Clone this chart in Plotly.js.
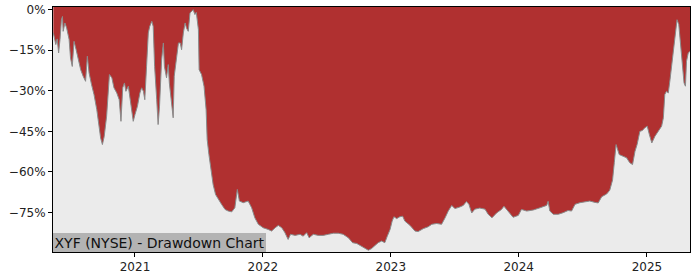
<!DOCTYPE html>
<html>
<head>
<meta charset="utf-8">
<script src="https://cdn.plot.ly/plotly-3.0.1.min.js"></script>
<style>html,body{margin:0;padding:0;background:#fff;}#chart{width:700px;height:280px;}</style>
</head>
<body>
<div id="chart"></div>
<script>
// Drawdown series (percent below running peak)
const dates = [
"2020-05-13","2020-05-20","2020-05-24","2020-05-28","2020-06-01","2020-06-05","2020-06-08","2020-06-10","2020-06-15","2020-06-20",
"2020-06-27","2020-07-01","2020-07-06","2020-07-11","2020-07-17","2020-07-23","2020-07-30","2020-08-06","2020-08-13","2020-08-18",
"2020-08-23","2020-08-30","2020-09-06","2020-09-14","2020-09-20","2020-09-25","2020-09-30","2020-10-05","2020-10-12","2020-10-20",
"2020-10-27","2020-11-02","2020-11-10","2020-11-17","2020-11-22","2020-11-27","2020-12-02","2020-12-06","2020-12-13","2020-12-20",
"2020-12-27","2021-01-01","2021-01-08","2021-01-15","2021-01-20","2021-01-25","2021-01-29","2021-02-03","2021-02-08","2021-02-12",
"2021-02-18","2021-02-22","2021-02-26","2021-03-04","2021-03-08","2021-03-12","2021-03-18","2021-03-23","2021-03-26","2021-04-01",
"2021-04-06","2021-04-09","2021-04-16","2021-04-20","2021-04-23","2021-04-30","2021-05-05","2021-05-10","2021-05-14","2021-05-19",
"2021-05-24","2021-05-28","2021-06-02","2021-06-07","2021-06-11","2021-06-16","2021-06-21","2021-06-25","2021-07-01","2021-07-03",
"2021-07-10","2021-07-17","2021-07-23","2021-07-26","2021-07-31","2021-08-06","2021-08-12","2021-08-19","2021-08-27","2021-09-05",
"2021-09-15","2021-09-24","2021-10-04","2021-10-13","2021-10-20","2021-10-26","2021-11-06","2021-11-20","2021-11-30","2021-12-09",
"2021-12-19","2022-01-02","2022-01-16","2022-01-26","2022-02-05","2022-02-14","2022-02-24","2022-03-05","2022-03-14","2022-03-21",
"2022-04-03","2022-04-17","2022-04-26","2022-05-06","2022-05-13","2022-05-25","2022-06-08","2022-06-22","2022-07-07","2022-07-21",
"2022-08-04","2022-08-18","2022-09-02","2022-09-14","2022-09-26","2022-10-10","2022-10-19","2022-10-29","2022-11-07","2022-11-17",
"2022-11-26","2022-12-06","2022-12-15","2022-12-22","2022-12-30","2023-01-05","2023-01-10","2023-01-18","2023-01-27","2023-02-04",
"2023-02-10","2023-02-25","2023-03-11","2023-03-20","2023-04-04","2023-04-18","2023-04-28","2023-05-12","2023-05-26","2023-06-05",
"2023-06-14","2023-06-24","2023-07-03","2023-07-17","2023-07-27","2023-08-05","2023-08-12","2023-08-20","2023-08-29","2023-09-12",
"2023-09-27","2023-10-06","2023-10-17","2023-10-30","2023-11-13","2023-11-20","2023-12-02","2023-12-16","2023-12-31","2024-01-09",
"2024-01-24","2024-02-12","2024-03-02","2024-03-21","2024-03-25","2024-03-30","2024-04-09","2024-04-23","2024-05-07","2024-05-21",
"2024-05-31","2024-06-10","2024-06-24","2024-07-08","2024-07-22","2024-08-06","2024-08-15","2024-08-25","2024-09-08","2024-09-17",
"2024-09-25","2024-09-30","2024-10-05","2024-10-14","2024-10-24","2024-11-04","2024-11-13","2024-11-21","2024-11-28","2024-12-04",
"2024-12-12","2024-12-19","2024-12-26","2025-01-02","2025-01-08","2025-01-15","2025-01-24","2025-02-02","2025-02-12","2025-02-17",
"2025-02-21","2025-02-26","2025-03-03","2025-03-08","2025-03-12","2025-03-19","2025-03-24","2025-03-28","2025-04-02","2025-04-07",
"2025-04-12","2025-04-17","2025-04-21","2025-04-24","2025-04-29","2025-05-04"
];
const drawdown = [
-8.6,-12.9,-10.8,-16,-11,-3.7,-2.5,-8,-4.9,-6.8,
-11,-17.9,-21,-11.7,-14.8,-17.9,-22.2,-24.6,-26.5,-17.2,
-23.4,-27.7,-31.4,-37,-43.1,-47.5,-49.9,-47,-39.4,-24,
-25.2,-28.9,-30.8,-33.3,-41.3,-28.9,-27.1,-30.2,-28.3,-34.5,
-41.3,-38.8,-35.7,-30.8,-28.9,-30.2,-33.3,-21,-8.6,-6.2,
-4.3,-6.2,-21,-33.3,-42.5,-35.7,-18.5,-12.3,-21,-25.2,
-20.3,-27.1,-35.7,-40,-24.6,-16,-12.3,-12.3,-14.8,-8.6,
-4.9,-6.8,-8,-1.2,-0.6,0,-1.8,-1,-7.4,-22.2,
-24,-28.3,-37,-48,-53.6,-58.5,-64.7,-68.4,-70.2,-72,
-73.9,-74.5,-74.8,-73.3,-66.5,-70.8,-71.4,-70.8,-73.3,-77,
-79.4,-80.7,-81.3,-81.9,-80.7,-79.8,-80.7,-82.5,-85,-83.1,
-83.5,-83.1,-83.8,-82.5,-84.4,-83.1,-83.5,-83.5,-83.1,-82.7,
-82.7,-83.1,-84.4,-86.2,-86.5,-87.5,-88.1,-89,-88.4,-87.2,
-86.2,-85.6,-86.2,-83.8,-81.3,-78.2,-76.6,-77.3,-76.6,-76.4,
-78.2,-79.8,-81.9,-82.1,-81,-80.3,-79.4,-79.1,-79.4,-77,
-74.5,-72.4,-73.6,-73,-72.4,-71,-72,-75.2,-73.8,-73.4,
-73.8,-75.7,-77,-75.2,-73.9,-72.7,-74.5,-76.8,-76.1,-73.9,
-74.5,-74.1,-73.3,-72.4,-70.9,-74.5,-75.7,-75.7,-75.1,-74.3,
-74.5,-72,-71.4,-71.1,-70.8,-71.3,-71.5,-69.2,-68.2,-66.8,
-63,-56.5,-49.9,-53.6,-54.2,-54.8,-56.6,-57.3,-52.4,-49.9,
-45,-44.7,-43.7,-43.1,-46.2,-49.3,-46.8,-45,-43.1,-40,
-31.4,-30.2,-30.8,-25.9,-21.6,-12.9,-8,-3.7,-5.5,-12.9,
-22.8,-27.1,-28.3,-19.1,-16,-15.4
];
const yTickVals = [0, -15, -30, -45, -60, -75];
const yTickText = ["0%", "\u221215%", "\u221230%", "\u221245%", "\u221260%", "\u221275%"];
const xTickVals = ["2021-01-01", "2022-01-01", "2023-01-01", "2024-01-01", "2025-01-01"];
const xTickText = ["2021", "2022", "2023", "2024", "2025"];
const chartTitle = "XYF (NYSE) - Drawdown Chart";

const yRange = [-89.65, 1.0];
const xRange = ["2020-05-12", "2025-05-04"];

const ceiling = {
  x: dates, y: dates.map(() => yRange[1]),
  type: "scatter", mode: "lines", line: {width: 0, color: "rgba(0,0,0,0)"},
  hoverinfo: "skip", showlegend: false
};
const dd = {
  x: dates, y: drawdown,
  type: "scatter", mode: "lines", fill: "tonexty",
  fillcolor: "#b03030", line: {color: "#8a8a8a", width: 1},
  showlegend: false
};

const axisCommon = {
  showline: true, linecolor: "#000", linewidth: 1, mirror: true,
  ticks: "outside", ticklen: 4, tickwidth: 1, tickcolor: "#000",
  showgrid: false, zeroline: false, fixedrange: true,
  tickfont: {family: "DejaVu Sans, sans-serif", size: 12, color: "#222"}
};

const layout = {
  width: 700, height: 280,
  margin: {l: 53, r: 10, t: 7, b: 28, pad: 0},
  paper_bgcolor: "#ffffff", plot_bgcolor: "#ebebeb",
  xaxis: Object.assign({}, axisCommon, {type: "date", range: xRange, tickmode: "array", tickvals: xTickVals, ticktext: xTickText}),
  yaxis: Object.assign({}, axisCommon, {range: yRange, tickmode: "array", tickvals: yTickVals, ticktext: yTickText}),
  annotations: [{
    text: chartTitle, xref: "paper", yref: "paper", x: 0, y: 0,
    xanchor: "left", yanchor: "bottom", showarrow: false,
    bgcolor: "#b3b3b3", borderpad: 1.5, borderwidth: 0,
    font: {family: "DejaVu Sans, sans-serif", size: 14, color: "#111"}
  }],
  showlegend: false
};

Plotly.newPlot("chart", [ceiling, dd], layout, {staticPlot: true, displayModeBar: false});
</script>
</body>
</html>
